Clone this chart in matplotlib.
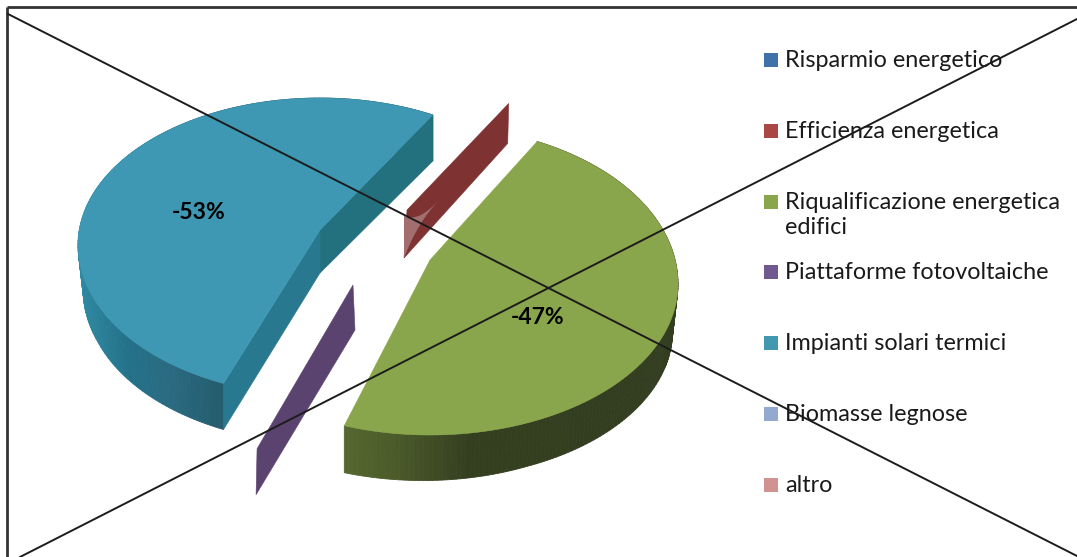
import numpy as np
import matplotlib
matplotlib.use("Agg")
import matplotlib.pyplot as plt
from matplotlib.colors import to_rgb
from matplotlib.patches import Polygon, Rectangle

plt.rcParams['font.family'] = ['Lato', 'DejaVu Sans']

categories = ["Risparmio energetico", "Efficienza energetica",
              "Riqualificazione energetica\nedifici", "Piattaforme fotovoltaiche",
              "Impianti solari termici", "Biomasse legnose", "altro"]
values = [0, 0, 47, 0, 53, 0, 0]
legend_colors = ["#3F72A8", "#AA4644", "#8AA64C", "#71588F", "#4198AF", "#93A9CF", "#D19392"]

W, H = 1077, 557
START_ANGLE = 64.4
# perspective stretch of each large slice's angular span
SPAN_SCALE = {2: 1.032, 4: 0.966}

# geometry of exploded slices, in canvas pixels
big = {
    2: dict(c=(430, 284), rx=248, ry_up=158, ry_dn=151, apex=(430, 260), th=47, start=64.4,
            top="#8AA64C", flat="#343F20",
            stops=[(344, "#566730"), (400, "#4A5A29"), (470, "#343F20"), (680, "#333E21")]),
    4: dict(c=(320, 245), rx=242, ry_up=147, ry_dn=151, apex=(320, 230), th=46, start=62.2,
            top="#3E98B4", flat="#23707F",
            stops=[(78, "#2F8AA2"), (125, "#23728A"), (170, "#2A6A80"), (225, "#245A6C")]),
}
slivers = {
    1: dict(c=(405, 236), rx=240, ry=147, apex=(407, 210), th_in=48, th_out=40, color="#7F3232"),
    3: dict(c=(340, 307), rx=240, ry=151, apex=(353, 285), th_in=45, th_out=46, color="#5B4370"),
}

fig = plt.figure(figsize=(W / 100, H / 100), dpi=100)
ax = fig.add_axes([0, 0, 1, 1])
ax.set_xlim(0, W)
ax.set_ylim(H, 0)
ax.axis("off")


def ell(g, t, scale=1.0, dy=0.0):
    t = np.radians(t)
    s = np.sin(t)
    ry = np.where(s > 0, g["ry_up"], g["ry_dn"])
    return g["c"][0] + scale * g["rx"] * np.cos(t), g["c"][1] - scale * ry * s + dy


def grad(stops, x):
    xs = [p[0] for p in stops]
    cs = np.array([to_rgb(p[1]) for p in stops])
    return tuple(np.interp(x, xs, cs[:, k]) for k in range(3))


def draw_big(i, a0, a1):
    g = big[i]
    n = 160
    ts = np.linspace(a0, a1, n)
    tx, ty = ell(g, ts)
    # the lower rim is a little smaller, easing back to full size at the slice corners
    ease = np.clip(np.minimum(np.arange(n), np.arange(n)[::-1]) / 40, 0, 1)
    bx, by = ell(g, ts, 1 - 0.022 * ease, g["th"])
    for k in range(n - 1):
        col = grad(g["stops"], tx[k])
        ax.add_patch(Polygon([(tx[k], ty[k]), (tx[k + 1], ty[k + 1]), (bx[k + 1], by[k + 1]), (bx[k], by[k])],
                             facecolor=col, edgecolor=col, lw=0.6, zorder=2))
    if i == 4:
        # only the blue slice shows its two radial walls
        apex_low = (g["apex"][0], g["apex"][1] + g["th"] - 3)
        ax.add_patch(Polygon([g["apex"], (tx[0], ty[0]), (bx[0], by[0]), apex_low],
                             facecolor=g["flat"], edgecolor=g["flat"], lw=0.4, zorder=2.2))
        ax.add_patch(Polygon([g["apex"], (tx[-1], ty[-1]), (bx[-1], by[-1]), apex_low],
                             facecolor="#28788F", edgecolor="#28788F", lw=0.4, zorder=2.2))
    ax.add_patch(Polygon(np.vstack([[g["apex"]], np.c_[tx, ty]]), closed=True,
                         facecolor=g["top"], edgecolor=g["top"], lw=0.4, zorder=3))


# walk the values clockwise from the start angle
cum = START_ANGLE
angles = {}
for i, v in enumerate(values):
    span = v * 3.6 * SPAN_SCALE.get(i, 1.0)
    angles[i] = (cum, cum - span)
    cum -= span

a0, a1 = angles[2]
draw_big(2, a0, a1)
# the blue slice runs the other way round from the same boundary in its own frame
g4 = big[4]
draw_big(4, g4["start"], g4["start"] + values[4] * 3.6 * SPAN_SCALE[4])

for i, s in slivers.items():
    ang = np.radians(angles[i][0])
    ox = s["c"][0] + s["rx"] * np.cos(ang)
    oy = s["c"][1] - s["ry"] * np.sin(ang)
    ax_, ay_ = s["apex"]
    ax.add_patch(Polygon([(ax_, ay_), (ox, oy), (ox - 1, oy + s["th_out"]), (ax_ - (3 if i == 1 else -2), ay_ + s["th_in"])],
                         facecolor=s["color"], edgecolor=s["color"], lw=0.4, zorder=2.5))
    if i == 1:
        # sliver of the last (zero) slice, seen on the red wall
        u = np.linspace(0, 1, 30)
        mx = 404 + 37 * u
        my = 237 - 39 * u
        h = 21 * (1 - u) ** 2.6
        ax.add_patch(Polygon(np.r_[np.c_[mx, my - h], np.c_[mx[::-1], (my + h)[::-1]]],
                             facecolor="#A26E6E", edgecolor="none", zorder=2.6))

# data labels
ax.text(199, 212.5, f"-{values[4]}%", ha="center", va="center", fontsize=16.5, fontweight="bold", color="black", zorder=5)
ax.text(538, 318, f"-{values[2]}%", ha="center", va="center", fontsize=16.5, fontweight="bold", color="black", zorder=5)

# legend
for k, (name, col) in enumerate(zip(categories, legend_colors)):
    y = 60 + k * 70.8
    ax.add_patch(Rectangle((764, y - 7), 13.5, 14, facecolor=col, edgecolor="none", zorder=4))
    ax.text(785, y - 10, name, ha="left", va="top", fontsize=16.8, color="#1a1a1a",
            linespacing=1.25, zorder=4)

# frame and crossing lines
ax.plot([7, W], [7, 7], color="#333333", lw=2.0, zorder=6, solid_capstyle="butt")
ax.plot([7, 7], [7, H], color="#333333", lw=2.0, zorder=6, solid_capstyle="butt")
ax.plot([8, W], [14, 556], color="#1c1c1c", lw=1.4, zorder=6)
ax.plot([20, W], [557, 19], color="#1c1c1c", lw=1.4, zorder=6)

fig.savefig("out.png", dpi=100, facecolor="white")
